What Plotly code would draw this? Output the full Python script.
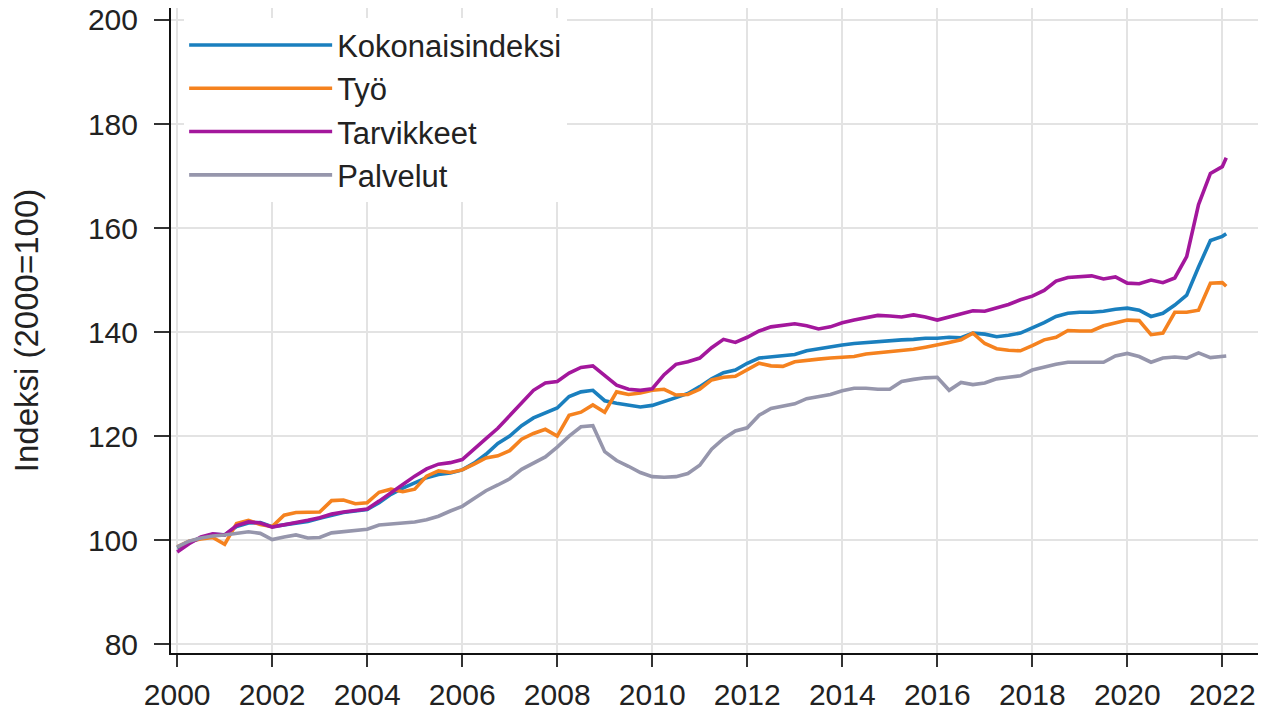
import plotly.graph_objects as go

# Quarterly readings (decimal year), last point Feb 2022
years = [2000 + i / 4 for i in range(89)] + [2022 + 1 / 12]

kokonaisindeksi = [
    98.5, 99.6, 100.4, 101.1, 101.0, 102.6, 103.3, 103.4,
    102.6, 102.9, 103.3, 103.6, 104.2, 104.8, 105.3, 105.6,
    105.9, 107.2, 108.8, 110.0, 111.0, 112.0, 112.6, 112.9,
    113.5, 114.8, 116.5, 118.6, 120.0, 122.0, 123.5, 124.5,
    125.4, 127.6, 128.5, 128.8, 126.8, 126.3, 125.9, 125.6,
    125.9, 126.6, 127.4, 128.2, 129.5, 131.0, 132.2, 132.7,
    134.0, 135.0, 135.2, 135.4, 135.7, 136.4, 136.8, 137.2,
    137.5, 137.8, 138.0, 138.2, 138.4, 138.5, 138.6, 138.8,
    138.8, 139.0, 138.9, 139.8, 139.6, 139.1, 139.4, 139.8,
    140.8, 141.8, 143.0, 143.6, 143.8, 143.8, 144.0, 144.4,
    144.6, 144.2, 143.0, 143.6, 145.2, 147.1, 152.5, 157.6,
    158.4, 158.9,
]

tyo = [
    98.7, 99.8, 100.2, 100.5, 99.2, 103.2, 103.8, 103.0,
    102.6, 104.8, 105.3, 105.4, 105.4, 107.6, 107.7, 107.0,
    107.2, 109.2, 109.8, 109.3, 109.8, 112.3, 113.3, 113.0,
    113.5, 114.6, 115.8, 116.2, 117.2, 119.4, 120.5, 121.3,
    120.0, 124.0, 124.6, 126.0, 124.6, 128.5, 128.0, 128.3,
    128.8, 129.0, 127.9, 128.0, 129.0, 130.8, 131.3, 131.5,
    132.7, 134.0, 133.5, 133.4, 134.3, 134.6, 134.8, 135.0,
    135.1, 135.3, 135.8, 136.0, 136.3, 136.5, 136.7, 137.1,
    137.5, 138.0, 138.5, 139.8, 137.8, 136.8, 136.5, 136.4,
    137.4, 138.5, 139.0, 140.3, 140.2, 140.2, 141.2, 141.8,
    142.3, 142.2, 139.5, 139.8, 143.8, 143.8, 144.2, 149.4,
    149.5, 148.8,
]

tarvikkeet = [
    97.7, 99.3, 100.6, 101.2, 101.0, 102.8, 103.5, 103.3,
    102.5, 102.9, 103.3, 103.8, 104.3, 105.0, 105.4, 105.7,
    106.0, 107.5, 109.2, 110.7, 112.3, 113.7, 114.6, 114.9,
    115.5, 117.4, 119.5, 121.5, 124.0, 126.5, 128.8, 130.2,
    130.5, 132.1, 133.2, 133.5, 131.6, 129.8, 129.0, 128.8,
    129.1, 131.8, 133.8, 134.3, 135.0, 137.0, 138.6, 138.0,
    139.0, 140.2, 141.0, 141.3, 141.6, 141.2, 140.6, 141.0,
    141.8, 142.3, 142.8, 143.2, 143.1, 142.9, 143.3, 142.9,
    142.3, 142.9, 143.4, 144.1, 144.0, 144.7, 145.3, 146.2,
    146.9, 148.0, 149.8, 150.5, 150.7, 150.8, 150.2, 150.6,
    149.4, 149.3, 150.0, 149.5, 150.4, 154.5, 164.5, 170.5,
    171.8, 173.5,
]

palvelut = [
    98.7, 99.8, 100.4, 100.8, 101.0, 101.3, 101.6, 101.3,
    100.1, 100.6, 101.0, 100.4, 100.5, 101.4, 101.6, 101.9,
    102.1, 102.9, 103.1, 103.3, 103.5, 103.9, 104.6, 105.6,
    106.5, 108.0, 109.5, 110.6, 111.8, 113.6, 114.8, 116.0,
    117.9, 120.0, 121.8, 122.0, 117.0, 115.3, 114.2, 113.0,
    112.2, 112.1, 112.2, 112.8, 114.4, 117.5, 119.5, 121.0,
    121.6, 124.0, 125.3, 125.8, 126.2, 127.2, 127.6, 128.0,
    128.7, 129.2, 129.2, 129.0, 129.0, 130.5, 130.9, 131.2,
    131.3, 128.8, 130.3, 129.9, 130.2, 131.0, 131.3, 131.6,
    132.7, 133.3, 133.8, 134.2, 134.2, 134.2, 134.2, 135.4,
    135.9, 135.3, 134.2, 135.0, 135.2, 135.0, 136.0, 135.1,
    135.2, 135.4,
]

series_names = ["Kokonaisindeksi", "Työ", "Tarvikkeet", "Palvelut"]
series_values = [kokonaisindeksi, tyo, tarvikkeet, palvelut]
series_colors = ["#1a7fbe", "#f5821f", "#a3179c", "#9696ac"]

x_ticks = list(range(2000, 2023, 2))
y_ticks = list(range(80, 201, 20))

FONT = "Liberation Sans, Arial, sans-serif"

fig = go.Figure()
for name, vals, col in zip(series_names, series_values, series_colors):
    fig.add_trace(go.Scatter(x=years, y=vals, name=name, mode="lines",
                             line=dict(color=col, width=3.6)))

# The page body adds an 8px offset, so the figure is sized/margined to compensate.
fig.update_layout(
    width=1258, height=704,
    margin=dict(l=163, r=0, t=0, b=59),
    paper_bgcolor="white", plot_bgcolor="white",
    font=dict(family=FONT, size=30, color="#222222"),
    showlegend=True,
    legend=dict(
        x=0.012, y=0.984, xanchor="left", yanchor="top",
        bgcolor="white", borderwidth=0,
        font=dict(family=FONT, size=31, color="#222222"),
        itemwidth=143, tracegroupgap=0,
    ),
)
fig.update_xaxes(
    range=[1999.87, 2022.92], tickvals=x_ticks,
    ticktext=[str(v) for v in x_ticks],
    showgrid=True, gridcolor="#e3e3e3", gridwidth=2,
    showline=True, linecolor="#111111", linewidth=2,
    ticks="outside", ticklen=12, tickwidth=2, tickcolor="#333333",
    ticklabelstandoff=2, ticklabeloverflow="allow",
    zeroline=False, tickfont=dict(size=30), automargin=False,
)
fig.update_yaxes(
    range=[78.3, 202.3], tickvals=y_ticks,
    showgrid=True, gridcolor="#e3e3e3", gridwidth=2,
    showline=True, linecolor="#111111", linewidth=2,
    ticks="outside", ticklen=15, tickwidth=2, tickcolor="#333333",
    ticklabelstandoff=10, ticklabeloverflow="allow",
    zeroline=False, tickfont=dict(size=30), automargin="left",
    title=dict(text="Indeksi (2000=100)", font=dict(size=33), standoff=44),
)

fig.write_html("out.html")
